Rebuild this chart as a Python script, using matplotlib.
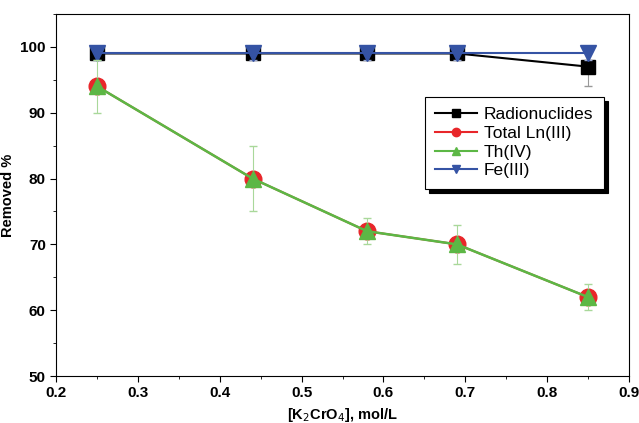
import matplotlib
matplotlib.use('Agg')
import matplotlib.pyplot as plt
from matplotlib.lines import Line2D
from matplotlib.ticker import MultipleLocator

plt.rcParams['font.family'] = ['Liberation Sans', 'DejaVu Sans']

# data
conc = [0.25, 0.44, 0.58, 0.69, 0.85]
radionuclides = [99, 99, 99, 99, 97]
radionuclides_err = [0, 0, 0, 0, 3]
total_ln = [94, 80, 72, 70, 62]
th_iv = [94, 80, 72, 70, 62]
th_err = [4, 5, 2, 3, 2]
fe_iii = [99, 99, 99, 99, 99]
fe_err = [1, 1, 1, 1, 1]

labels = ['Radionuclides', 'Total Ln(III)', 'Th(IV)', 'Fe(III)']
colors = ['black', '#e8262a', '#5cb745', '#3553a4']
markers = ['s', 'o', '^', 'v']

fig = plt.figure(figsize=(6.39, 4.23), dpi=100)
ax = fig.add_axes([0.088, 0.111, 0.896, 0.856])

# Radionuclides
ax.errorbar(conc, radionuclides, yerr=radionuclides_err, color=colors[0], marker=markers[0],
            markersize=10, linewidth=1.5, elinewidth=0.8, ecolor='#999999', capsize=3, zorder=3)
# Total Ln(III)
ax.plot(conc, total_ln, color=colors[1], marker=markers[1], markersize=12, linewidth=1.5, zorder=4)
# Th(IV)
ax.errorbar(conc, th_iv, yerr=th_err, color=colors[2], marker=markers[2], markersize=11,
            linewidth=1.8, elinewidth=0.8, ecolor='#a9d89a', capsize=3, zorder=5)
# Fe(III)
ax.errorbar(conc, fe_iii, yerr=fe_err, color=colors[3], marker=markers[3], markersize=11,
            linewidth=1.5, elinewidth=0.8, ecolor='#9aa8d0', capsize=3, zorder=4)

ax.set_xlim(0.2, 0.9)
ax.set_ylim(50, 105)
ax.xaxis.set_major_locator(MultipleLocator(0.1))
ax.xaxis.set_minor_locator(MultipleLocator(0.05))
ax.yaxis.set_major_locator(MultipleLocator(10))
ax.yaxis.set_minor_locator(MultipleLocator(5))
ax.tick_params(which='both', direction='out', top=False, right=False)
ax.tick_params(which='major', length=4, labelsize=11)
ax.tick_params(which='minor', length=2)
for lab in ax.get_xticklabels() + ax.get_yticklabels():
    lab.set_fontweight('bold')

ax.set_xlabel('[K$_2$CrO$_4$], mol/L', fontsize=10.5, fontweight='bold')
ax.set_ylabel('Removed %', fontsize=10.5, fontweight='bold')

leg_handles = [Line2D([], [], color=c, marker=m, markersize=6, linewidth=1.5)
               for c, m in zip(colors, markers)]
leg = ax.legend(leg_handles, labels, loc='upper left', bbox_to_anchor=(0.644, 0.771),
                borderaxespad=0, fontsize=12.5, frameon=True, fancybox=False,
                shadow={'color': 'black', 'alpha': 1.0, 'ox': 3, 'oy': -3},
                handlelength=2.4, borderpad=0.6, labelspacing=0.2, handletextpad=0.4)
leg.get_frame().set_edgecolor('black')
leg.get_frame().set_linewidth(0.8)

fig.savefig('out.png', dpi=100)
